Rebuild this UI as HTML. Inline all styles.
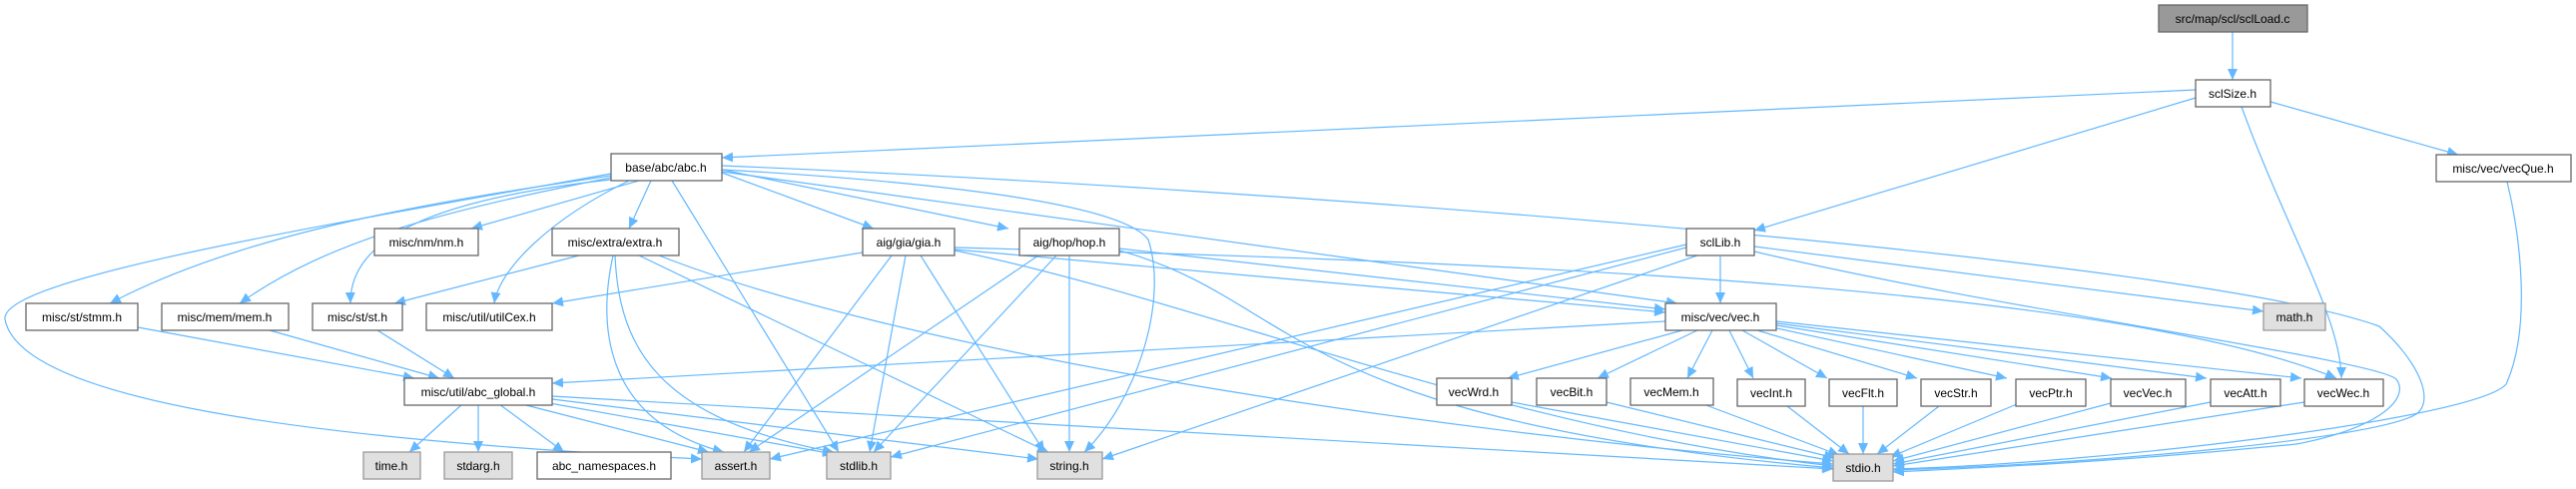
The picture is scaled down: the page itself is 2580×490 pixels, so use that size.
<!DOCTYPE html>
<html><head><meta charset="utf-8"><style>
html,body{margin:0;padding:0;background:#fff;}
svg text{font-family:"Liberation Sans",Arial,sans-serif;font-size:12px;fill:#000;text-anchor:middle;}
.b{fill:#fff;stroke:#666;stroke-width:1.3}
.g{fill:#e0e0e0;stroke:#999;stroke-width:1.3}
.e path{fill:none;stroke:#63b8ff;stroke-width:1.2;marker-end:url(#a)}
</style></head><body>
<svg width="2580" height="485" viewBox="0 0 2580 485" xmlns="http://www.w3.org/2000/svg">
<defs><marker id="a" markerUnits="userSpaceOnUse" markerWidth="12" markerHeight="10" refX="11" refY="5" orient="auto"><path d="M0,0 L11,5 L0,10 z" fill="#63b8ff"/></marker></defs>
<g class="e">
<path d="M2236 32 L2236 80"/>
<path d="M2199 90 L723 158"/>
<path d="M2199 98 L1757 231"/>
<path d="M2245 107 C2290 230 2345 320 2345 379"/>
<path d="M2274 102 L2462 155"/>
<path d="M2511 182 C2525 240 2535 330 2510 385 C2480 420 2100 465 1896 470"/>
<path d="M640 181 L472 229"/>
<path d="M652 181 L630 229"/>
<path d="M612 176 C450 200 250 230 110 304"/>
<path d="M612 178 C450 210 330 240 240 304"/>
<path d="M612 180 C430 200 350 240 351 304"/>
<path d="M630 181 C550 220 500 270 495 304"/>
<path d="M612 174 C300 230 0 280 5 320 C20 400 300 440 703 460"/>
<path d="M673 181 L840 453"/>
<path d="M723 170 C900 180 1120 200 1150 240 C1170 300 1140 400 1086 453"/>
<path d="M723 166 C1300 190 2200 260 2383 327 C2420 360 2440 400 2420 415 C2380 440 2100 465 1896 471"/>
<path d="M723 173 L875 229"/>
<path d="M723 170 L1010 229"/>
<path d="M723 172 L1680 304"/>
<path d="M580 256 L395 304"/>
<path d="M614 256 C600 320 600 420 725 453"/>
<path d="M616 256 C620 350 660 420 835 453"/>
<path d="M640 256 L1050 453"/>
<path d="M660 256 C900 350 1400 430 1836 465"/>
<path d="M864 253 L553 304"/>
<path d="M956 250 L1668 313"/>
<path d="M956 248 C1400 260 2100 280 2340 379"/>
<path d="M893 256 L745 453"/>
<path d="M907 256 L871 453"/>
<path d="M922 256 L1046 453"/>
<path d="M956 251 C1200 300 1500 430 1836 467"/>
<path d="M1121 249 L1668 310"/>
<path d="M1040 256 L750 453"/>
<path d="M1058 256 L875 453"/>
<path d="M1071 256 L1071 453"/>
<path d="M1121 251 C1300 300 1280 420 1836 469"/>
<path d="M1723 257 L1723 304"/>
<path d="M1757 247 L2267 312"/>
<path d="M1757 252 C2000 310 2380 360 2400 380 C2415 400 2380 430 2300 445 C2100 465 1950 470 1896 473"/>
<path d="M1689 245 L771 460"/>
<path d="M1689 248 L892 458"/>
<path d="M1700 256 L1104 460"/>
<path d="M1668 322 L553 384"/>
<path d="M1685 331 L1510 379"/>
<path d="M1700 331 L1600 379"/>
<path d="M1715 331 L1690 379"/>
<path d="M1732 331 L1756 379"/>
<path d="M1745 331 L1830 379"/>
<path d="M1760 331 L1920 379"/>
<path d="M1775 328 L2010 379"/>
<path d="M1779 326 L2115 379"/>
<path d="M1779 324 L2210 379"/>
<path d="M1779 322 L2305 379"/>
<path d="M138 328 L415 379"/>
<path d="M270 331 L440 379"/>
<path d="M378 331 L455 379"/>
<path d="M463 405 L410 453"/>
<path d="M479 405 L479 453"/>
<path d="M500 405 L565 453"/>
<path d="M523 405 L710 453"/>
<path d="M545 403 L835 455"/>
<path d="M553 400 L1040 460"/>
<path d="M553 397 L1836 470"/>
<path d="M1514 403 L1836 462"/>
<path d="M1609 403 L1838 459"/>
<path d="M1706 405 L1842 456"/>
<path d="M1790 407 L1852 455"/>
<path d="M1866 407 L1866 455"/>
<path d="M1942 407 L1880 455"/>
<path d="M2020 405 L1893 458"/>
<path d="M2114 404 L1896 462"/>
<path d="M2214 403 L1896 465"/>
<path d="M2308 403 L1896 467"/>
</g>
<g>
<rect x="2162" y="5" width="149" height="27" fill="#999" stroke="#666" stroke-width="1.3"/><text x="2236" y="23">src/map/scl/sclLoad.c</text>
<rect class="b" x="2199" y="80" width="75" height="27"/><text x="2236" y="98">sclSize.h</text>
<rect class="b" x="2440" y="155" width="135" height="27"/><text x="2507" y="173">misc/vec/vecQue.h</text>
<rect class="b" x="612" y="154" width="111" height="27"/><text x="667" y="172">base/abc/abc.h</text>
<rect class="b" x="375" y="229" width="104" height="27"/><text x="427" y="247">misc/nm/nm.h</text>
<rect class="b" x="553" y="229" width="127" height="27"/><text x="616" y="247">misc/extra/extra.h</text>
<rect class="b" x="864" y="229" width="92" height="27"/><text x="910" y="247">aig/gia/gia.h</text>
<rect class="b" x="1021" y="229" width="100" height="27"/><text x="1071" y="247">aig/hop/hop.h</text>
<rect class="b" x="1689" y="229" width="68" height="27"/><text x="1723" y="247">sclLib.h</text>
<rect class="b" x="26" y="304" width="112" height="27"/><text x="82" y="322">misc/st/stmm.h</text>
<rect class="b" x="162" y="304" width="127" height="27"/><text x="225" y="322">misc/mem/mem.h</text>
<rect class="b" x="313" y="304" width="90" height="27"/><text x="358" y="322">misc/st/st.h</text>
<rect class="b" x="427" y="304" width="126" height="27"/><text x="490" y="322">misc/util/utilCex.h</text>
<rect class="b" x="1668" y="304" width="111" height="27"/><text x="1723" y="322">misc/vec/vec.h</text>
<rect class="g" x="2267" y="304" width="62" height="27"/><text x="2298" y="322">math.h</text>
<rect class="b" x="405" y="379" width="148" height="27"/><text x="479" y="397">misc/util/abc_global.h</text>
<rect class="b" x="1439" y="379" width="75" height="27"/><text x="1476" y="397">vecWrd.h</text>
<rect class="b" x="1539" y="379" width="70" height="27"/><text x="1574" y="397">vecBit.h</text>
<rect class="b" x="1633" y="379" width="83" height="27"/><text x="1674" y="397">vecMem.h</text>
<rect class="b" x="1740" y="380" width="68" height="27"/><text x="1774" y="398">vecInt.h</text>
<rect class="b" x="1832" y="380" width="68" height="27"/><text x="1866" y="398">vecFlt.h</text>
<rect class="b" x="1924" y="380" width="70" height="27"/><text x="1959" y="398">vecStr.h</text>
<rect class="b" x="2019" y="380" width="70" height="27"/><text x="2054" y="398">vecPtr.h</text>
<rect class="b" x="2114" y="380" width="75" height="27"/><text x="2151" y="398">vecVec.h</text>
<rect class="b" x="2214" y="380" width="70" height="27"/><text x="2249" y="398">vecAtt.h</text>
<rect class="b" x="2308" y="380" width="79" height="27"/><text x="2347" y="398">vecWec.h</text>
<rect class="g" x="364" y="453" width="57" height="27"/><text x="392" y="471">time.h</text>
<rect class="g" x="445" y="453" width="68" height="27"/><text x="479" y="471">stdarg.h</text>
<rect class="b" x="538" y="453" width="134" height="27"/><text x="605" y="471">abc_namespaces.h</text>
<rect class="g" x="703" y="453" width="68" height="27"/><text x="737" y="471">assert.h</text>
<rect class="g" x="828" y="453" width="64" height="27"/><text x="860" y="471">stdlib.h</text>
<rect class="g" x="1039" y="453" width="65" height="27"/><text x="1071" y="471">string.h</text>
<rect class="g" x="1836" y="455" width="60" height="27"/><text x="1866" y="473">stdio.h</text>
</g>
</svg>
</body></html>
